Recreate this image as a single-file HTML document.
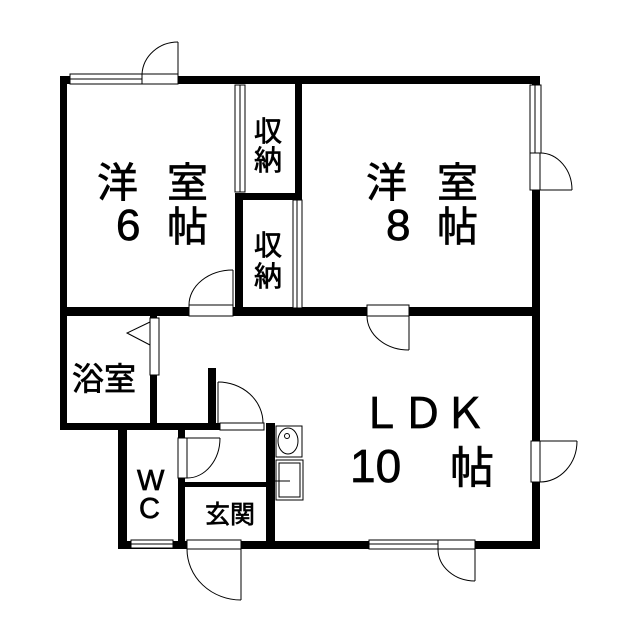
<!DOCTYPE html>
<html><head><meta charset="utf-8"><style>
html,body{margin:0;padding:0;background:#fff;}
svg{display:block;}
text{font-family:"Liberation Sans","Noto Sans CJK JP",sans-serif;fill:#000;stroke:#000;stroke-width:0.7;}
</style></head><body>
<svg width="640" height="640" viewBox="0 0 640 640" xmlns="http://www.w3.org/2000/svg">
<g fill="#000">
<rect x="60" y="76" width="480" height="8"/>
<rect x="60" y="76" width="7" height="354"/>
<rect x="532" y="76" width="8" height="472"/>
<rect x="118" y="541" width="422" height="8"/>
<rect x="295" y="76" width="7" height="240"/>
<rect x="235" y="193" width="67" height="7"/>
<rect x="235" y="193" width="8" height="123"/>
<rect x="60" y="307" width="480" height="9"/>
<rect x="60" y="423" width="160" height="7"/>
<rect x="150" y="316" width="7" height="110"/>
<rect x="208" y="368" width="8" height="60"/>
<rect x="266" y="423" width="9" height="122"/>
<rect x="118" y="423" width="9" height="126"/>
<rect x="178" y="426" width="7" height="123"/>
<rect x="184" y="482" width="84" height="5"/>
</g>
<g fill="#fff" stroke="#000" stroke-width="1">
<rect x="70" y="74" width="72" height="10"/>
<line x1="70" y1="79" x2="142" y2="79"/>
<rect x="142" y="74" width="36" height="10"/>
<rect x="235" y="85" width="10" height="107"/>
<line x1="240" y1="85" x2="240" y2="192"/>
<rect x="293" y="200" width="9" height="108"/>
<line x1="297" y1="200" x2="297" y2="308"/>
<rect x="530" y="85" width="11" height="68"/>
<line x1="535" y1="85" x2="535" y2="153"/>
<rect x="530" y="153" width="10" height="37"/>
<rect x="531" y="441" width="9" height="41"/>
<rect x="189" y="305" width="44" height="11"/>
<rect x="367" y="305" width="42" height="11"/>
<rect x="150" y="318" width="9" height="57"/>
<rect x="220" y="423" width="44" height="7"/>
<rect x="178" y="438" width="9" height="40"/>
<rect x="131" y="540" width="42" height="8"/>
<line x1="131" y1="544" x2="173" y2="544"/>
<rect x="187" y="540" width="54" height="9"/>
<rect x="369" y="540" width="69" height="9"/>
<line x1="369" y1="544" x2="438" y2="544"/>
<rect x="438" y="540" width="37" height="9"/>
</g>
<g fill="none" stroke="#000" stroke-width="1">
<line x1="178" y1="74" x2="178" y2="42"/>
<path d="M142 74 A36 34 0 0 1 178 42"/>
<line x1="540" y1="190" x2="572" y2="190"/>
<path d="M540 153 A32 37 0 0 1 572 190"/>
<line x1="540" y1="441" x2="577" y2="441"/>
<path d="M577 441 A37 41 0 0 1 540 482"/>
<line x1="233" y1="305" x2="233" y2="270"/>
<path d="M189 305 A44 35 0 0 1 233 270"/>
<line x1="409" y1="316" x2="409" y2="350"/>
<path d="M367 316 A42 34 0 0 0 409 350"/>
<path d="M150 322 L127 333 L150 345"/>
<line x1="218" y1="382" x2="218" y2="423"/>
<path d="M218 382 A45 41 0 0 1 263 423"/>
<line x1="187" y1="438" x2="220" y2="438"/>
<path d="M220 438 A33 40 0 0 1 187 478"/>
<line x1="241" y1="549" x2="241" y2="600"/>
<path d="M187 549 A54 51 0 0 0 241 600"/>
<line x1="475" y1="549" x2="475" y2="581"/>
<path d="M438 549 A37 32 0 0 0 475 581"/>
<rect x="276" y="426" width="26" height="31"/>
<ellipse cx="288" cy="441" rx="10" ry="13"/>
<circle cx="287" cy="436" r="2.5"/>
<rect x="276" y="460" width="27" height="40"/>
<rect x="279" y="463" width="21" height="34"/>
<line x1="275" y1="481" x2="290" y2="481"/>
</g>
<g font-size="41">
<text x="97" y="197">洋</text>
<text x="167" y="197">室</text>
<text x="116" y="240" font-size="44">6</text>
<text x="167" y="241">帖</text>
<text x="366" y="197">洋</text>
<text x="437" y="197">室</text>
<text x="386" y="240" font-size="44">8</text>
<text x="437" y="241">帖</text>
<text x="360" y="428" font-size="42">ＬＤＫ</text>
<text x="350" y="482" font-size="46">10</text>
<text x="450" y="483" font-size="44">帖</text>
</g>
<g font-size="28">
<text x="254" y="141">収</text>
<text x="254" y="170">納</text>
<text x="254" y="255">収</text>
<text x="254" y="286">納</text>
<text x="72" y="390" font-size="32">浴室</text>
<text x="137" y="490" font-size="29">W</text>
<text x="139" y="518" font-size="29">C</text>
<text x="205" y="523" font-size="25">玄関</text>
</g>
</svg>
</body></html>
